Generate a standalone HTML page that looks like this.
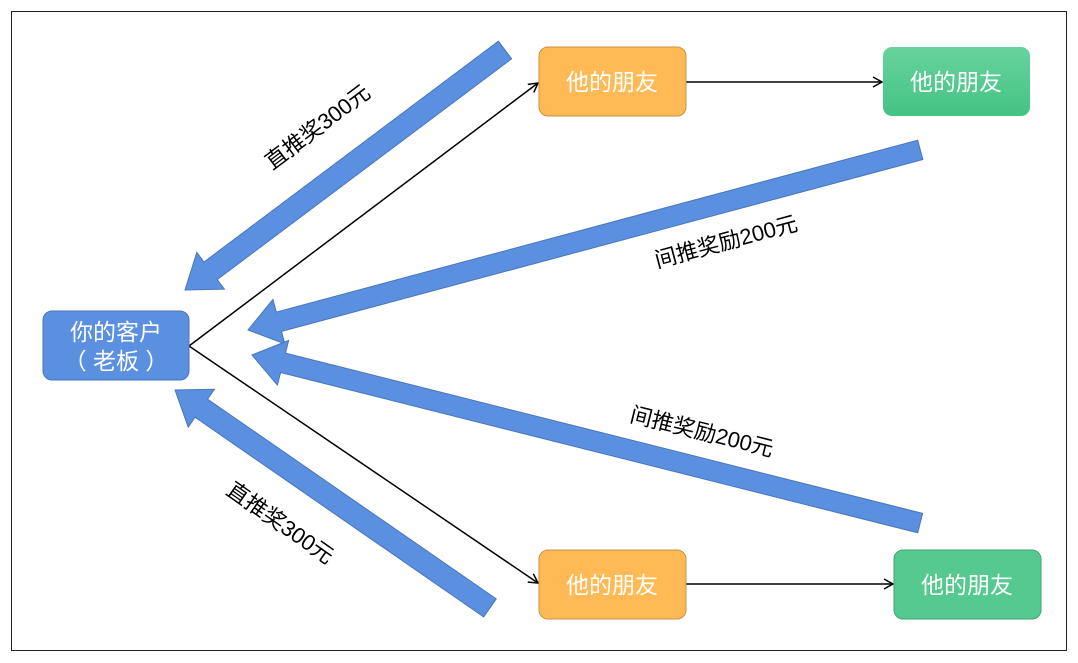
<!DOCTYPE html>
<html><head><meta charset="utf-8"><style>
body{margin:0;background:#fff;}
svg{display:block}
text{font-family:"Liberation Sans","Noto Sans CJK SC",sans-serif;}
</style></head><body>
<svg width="1078" height="663" viewBox="0 0 1078 663" xmlns="http://www.w3.org/2000/svg">
<defs>
<linearGradient id="g1" x1="0" y1="0" x2="0" y2="1"><stop offset="0" stop-color="#68d39e"/><stop offset="1" stop-color="#44c383"/></linearGradient>
<marker id="ah" markerWidth="12" markerHeight="12" refX="10" refY="6" orient="auto" markerUnits="userSpaceOnUse"><path d="M1,1 L10,6 L1,11" fill="none" stroke="#000" stroke-width="1.5"/></marker>
</defs>
<rect x="11.5" y="11.5" width="1055" height="639" fill="#fff" stroke="#222" stroke-width="1"/>
<g fill="#5b8fe0" stroke="#4a76bb" stroke-width="1">
<g transform="translate(185,290) rotate(143.13)"><polygon points="0,0 -32,-23 -32,-11 -400,-11 -400,11 -32,11 -32,23"/></g>
<g transform="translate(248,330) rotate(165)"><polygon points="0,0 -32,-23 -32,-10 -696,-10 -696,10 -32,10 -32,23"/></g>
<g transform="translate(252,355) rotate(194.12)"><polygon points="0,0 -32,-23 -32,-10 -689,-10 -689,10 -32,10 -32,23"/></g>
<g transform="translate(175,390) rotate(214.68)"><polygon points="0,0 -32,-23 -32,-11 -383,-11 -383,11 -32,11 -32,23"/></g>
</g>
<g stroke="#000" stroke-width="1.5" fill="none" marker-end="url(#ah)">
<line x1="189" y1="346" x2="538" y2="83"/>
<line x1="189" y1="346" x2="538" y2="583"/>
<line x1="686" y1="82" x2="882" y2="82"/>
<line x1="686" y1="584" x2="893" y2="584"/>
</g>
<rect x="43" y="311" width="146" height="69" rx="9" fill="#5b8fe0" stroke="#4a76bb"/>
<text x="116" y="340" font-size="23" fill="#fff" text-anchor="middle">你的客户</text>
<text x="116" y="369" font-size="23" fill="#fff" text-anchor="middle">（ 老板 ）</text>
<rect x="539" y="47" width="147" height="69" rx="9" fill="#ffba55" stroke="#c8913f"/>
<text x="612" y="90" font-size="23" fill="#fff" text-anchor="middle">他的朋友</text>
<rect x="883" y="47" width="147" height="69" rx="9" fill="url(#g1)"/>
<text x="956" y="90" font-size="23" fill="#fff" text-anchor="middle">他的朋友</text>
<rect x="539" y="550" width="147" height="69" rx="9" fill="#ffba55" stroke="#c8913f"/>
<text x="612" y="593" font-size="23" fill="#fff" text-anchor="middle">他的朋友</text>
<rect x="894" y="550" width="147" height="69" rx="9" fill="#55c98f" stroke="#3ea572"/>
<text x="967" y="593" font-size="23" fill="#fff" text-anchor="middle">他的朋友</text>
<g font-size="22" fill="#000" text-anchor="middle">
<text transform="translate(322,133) rotate(-37)">直推奖300元</text>
<text transform="translate(728,249) rotate(-15)">间推奖励200元</text>
<text transform="translate(700,439) rotate(14)">间推奖励200元</text>
<text transform="translate(276,529) rotate(35)">直推奖300元</text>
</g>
</svg>
</body></html>
